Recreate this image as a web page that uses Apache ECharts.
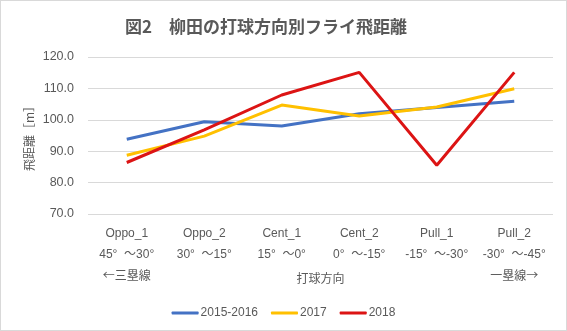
<!DOCTYPE html>
<html><head><meta charset="utf-8">
<script src="https://cdn.jsdelivr.net/npm/echarts@6/dist/echarts.min.js"></script>
<style>
html,body{margin:0;padding:0;background:#fff;}
#c{position:absolute;left:0;top:0;width:565px;height:329px;border:1px solid #d9d9d9;}
</style></head>
<body><div id="c"></div>
<script>
const categories = ['Oppo_1','Oppo_2','Cent_1','Cent_2','Pull_1','Pull_2'];
const angleLabels = ['45°  ～30°','30°  ～15°','15°  ～0°','0°  ～-15°','-15°  ～-30°','-30°  ～-45°'];
const sideLabels = ['←三塁線','','','','','一塁線→'];
const s2015 = [93.8, 99.4, 98.0, 101.9, 103.9, 105.9];
const s2017 = [88.7, 94.8, 104.7, 101.2, 104.1, 109.9];
const s2018 = [86.4, 96.8, 107.9, 115.1, 85.5, 115.1];
const yTicks = {min:70, max:120, interval:10};

const font = 'Liberation Sans, "Noto Sans CJK JP", sans-serif';
const cjk = '"Noto Sans CJK JP", sans-serif';
const chart = echarts.init(document.getElementById('c'));
chart.setOption({
  animation:false,
  textStyle:{fontFamily:font},
  title:{text:'図2　柳田の打球方向別フライ飛距離', left:119, top:12,
    textStyle:{fontSize:17, fontWeight:'bold', color:'#595959', fontFamily:cjk}},
  grid:{left:87, right:13, top:56, bottom:116},
  legend:{bottom:6, left:'center', icon:'roundRect', itemWidth:27, itemHeight:3, itemGap:13,
    textStyle:{fontSize:12, color:'#595959', padding:[0,0,0,-3]}},
  xAxis:{type:'category', data:categories, boundaryGap:true,
    axisLine:{show:false}, axisTick:{show:false},
    axisLabel:{interval:0, margin:9, fontSize:12, color:'#595959', lineHeight:21,
      formatter:(v,i)=> v + '\n' + angleLabels[i] + (sideLabels[i] ? '\n{s|' + sideLabels[i] + '}' : ''),
      rich:{s:{fontFamily:cjk, fontSize:12, color:'#595959', lineHeight:21}}},
    name:'打球方向', nameLocation:'middle', nameGap:64, nameMoveOverlap:false,
    nameTextStyle:{fontSize:12, color:'#595959', verticalAlign:'middle', fontFamily:cjk}},
  yAxis:{type:'value', min:yTicks.min, max:yTicks.max, interval:yTicks.interval,
    axisLine:{show:false}, axisTick:{show:false},
    splitLine:{lineStyle:{color:'#d9d9d9'}},
    axisLabel:{fontSize:12.5, color:'#595959', margin:14, formatter:v=>v.toFixed(1)},
    name:'飛距離［m］', nameLocation:'middle', nameGap:59, nameRotate:90, nameMoveOverlap:false,
    nameTextStyle:{fontSize:12, color:'#595959', fontFamily:cjk, verticalAlign:'middle'}},
  series:[
    {name:'2015-2016', type:'line', data:s2015, showSymbol:false, symbol:'none', lineStyle:{width:3, color:'#4472C4'}, itemStyle:{color:'#4472C4'}},
    {name:'2017', type:'line', data:s2017, showSymbol:false, symbol:'none', lineStyle:{width:3, color:'#FFC000'}, itemStyle:{color:'#FFC000'}},
    {name:'2018', type:'line', data:s2018, showSymbol:false, symbol:'none', lineStyle:{width:3, color:'#DC1414'}, itemStyle:{color:'#DC1414'}}
  ]
});
</script></body></html>
